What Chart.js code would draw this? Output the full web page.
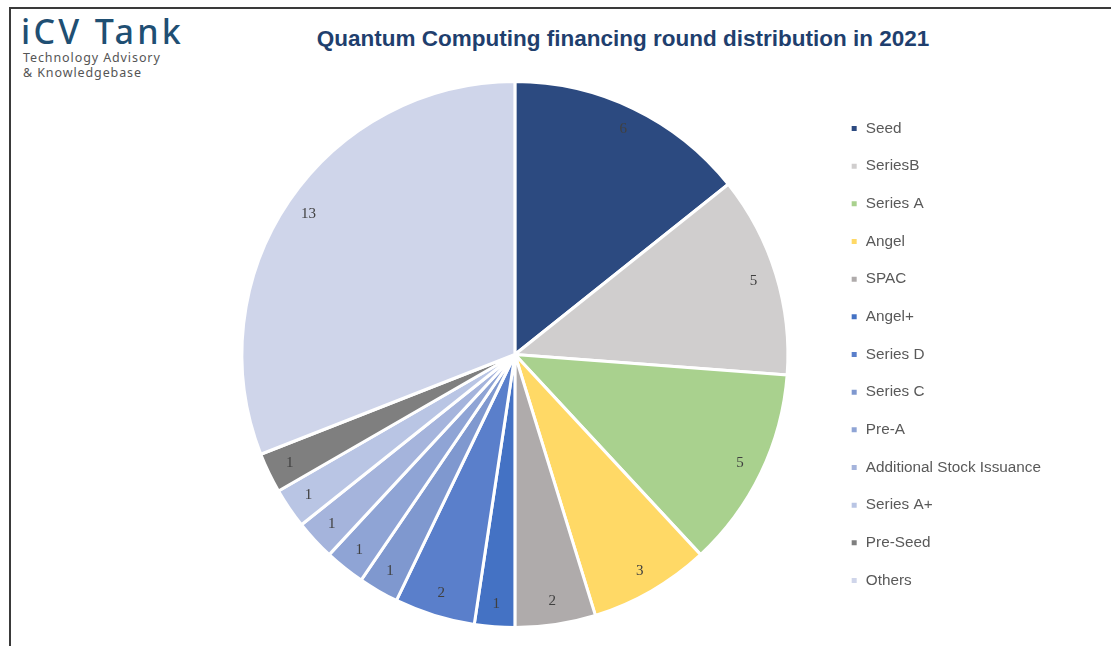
<!DOCTYPE html>
<html>
<head>
<meta charset="utf-8">
<script src="https://cdn.jsdelivr.net/npm/chart.js@4/dist/chart.umd.min.js"></script>
<style>
  html, body { margin: 0; padding: 0; background: #fff; }
  body { width: 1111px; height: 646px; position: relative; overflow: hidden; font-family: "Liberation Sans", Arial, sans-serif; }
  #frame { position: absolute; left: 9px; top: 7px; right: -5px; bottom: -5px; border-top: 2px solid #3a3a3a; border-left: 2px solid #3a3a3a; }
  #logo { position: absolute; left: 21px; top: 11px; color: #1f4f73; font-family: "Noto Sans", sans-serif; font-size: 34px; font-weight: 500; letter-spacing: 3.3px; line-height: 40px; }
  #tag { position: absolute; left: 23px; top: 50px; color: #555; font-family: "Noto Sans", sans-serif; font-size: 12.5px; line-height: 15px; letter-spacing: 0.9px; }
  #title { position: absolute; left: 300px; top: 26px; width: 646px; text-align: center; color: #1f3f6e; font-size: 22.5px; font-weight: bold; }
  #wrap { position: absolute; left: 0; top: 0; width: 1111px; height: 646px; }
</style>
</head>
<body>
<div id="frame"></div>
<div id="logo">iCV Tank</div>
<div id="tag">Technology Advisory<br>&amp; Knowledgebase</div>
<div id="title">Quantum Computing financing round distribution in 2021</div>
<div id="wrap"><canvas id="pie" width="1111" height="646"></canvas></div>
<script>
const rounds = ["Seed", "SeriesB", "Series A", "Angel", "SPAC", "Angel+", "Series D", "Series C", "Pre-A", "Additional Stock Issuance", "Series A+", "Pre-Seed", "Others"];
const counts = [6, 5, 5, 3, 2, 1, 2, 1, 1, 1, 1, 1, 13];
const colors = ["#2c4a80", "#d0cece", "#a9d18e", "#ffd966", "#afabab", "#4472c4", "#5a7fcb", "#7f98cf", "#8fa4d5", "#a5b4dc", "#b9c5e4", "#7f7f7f", "#cfd5ea"];

const valueLabels = {
  id: "valueLabels",
  afterDatasetsDraw(chart) {
    const ctx = chart.ctx;
    const meta = chart.getDatasetMeta(0);
    ctx.save();
    ctx.font = '15px "Liberation Serif", "Times New Roman", serif';
    ctx.fillStyle = "#404040";
    ctx.textAlign = "center";
    ctx.textBaseline = "middle";
    meta.data.forEach((arc, i) => {
      const { x, y, startAngle, endAngle, outerRadius } = arc.getProps(["x", "y", "startAngle", "endAngle", "outerRadius"], true);
      const mid = (startAngle + endAngle) / 2;
      const r = outerRadius * 0.915;
      ctx.fillText(counts[i], x + Math.cos(mid) * r, y + Math.sin(mid) * r);
    });
    ctx.restore();
  }
};

new Chart(document.getElementById("pie").getContext("2d"), {
  type: "pie",
  data: {
    labels: rounds,
    datasets: [{ data: counts, backgroundColor: colors, borderColor: "#ffffff", borderWidth: 3 }]
  },
  options: {
    responsive: false,
    animation: false,
    layout: { padding: { left: 202, right: 60, top: 80, bottom: 17 } },
    plugins: {
      legend: {
        position: "right",
        labels: {
          boxWidth: 8,
          boxHeight: 8,
          padding: 22.37,
          color: "#595959",
          font: { size: 15.3, family: '"Liberation Sans", Arial, sans-serif' }
        }
      },
      tooltip: { enabled: false }
    }
  },
  plugins: [valueLabels]
});
</script>
</body>
</html>
